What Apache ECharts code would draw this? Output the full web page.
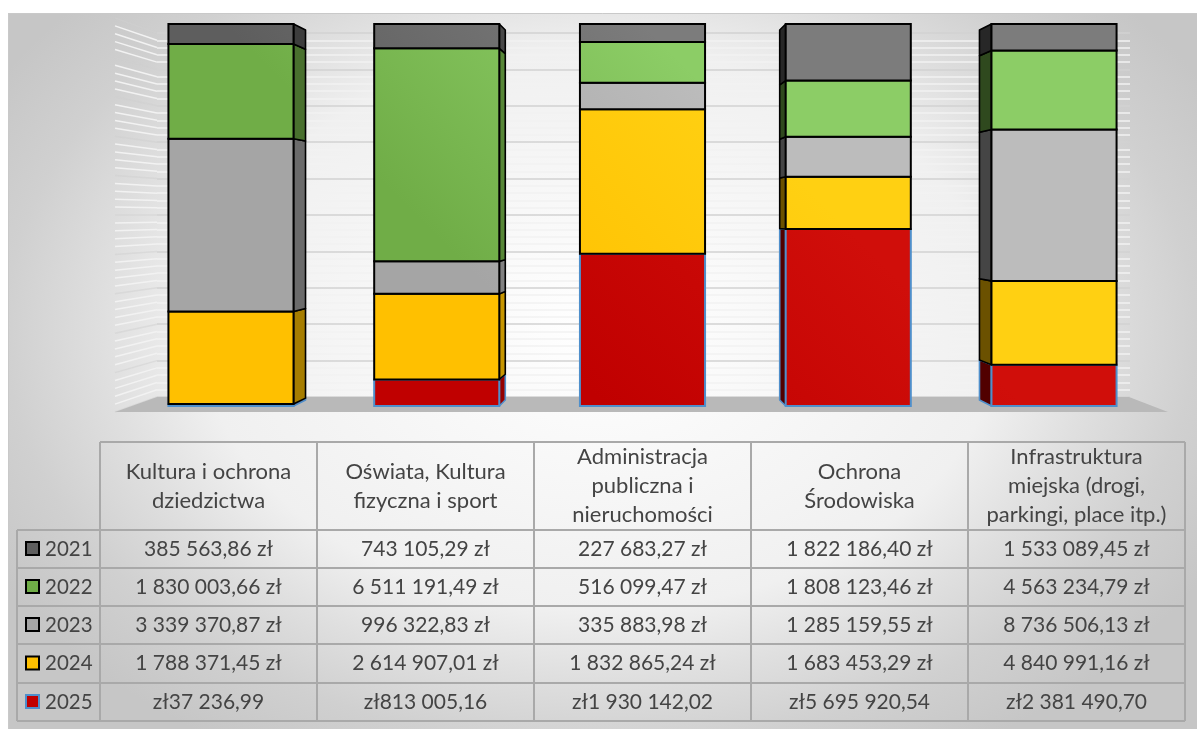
<!DOCTYPE html>
<html>
<head>
<meta charset="utf-8">
<style>
  html, body { margin: 0; padding: 0; background: #fff; }
  #chart { width: 1197px; height: 729px; }
</style>
<script src="https://cdn.jsdelivr.net/npm/echarts@6/dist/echarts.min.js"></script>
</head>
<body>
<div id="chart"></div>
<script>
const categories = [
  'Kultura i ochrona\ndziedzictwa',
  'Oświata, Kultura\nfizyczna i sport',
  'Administracja\npubliczna i\nnieruchomości',
  'Ochrona\nŚrodowiska',
  'Infrastruktura\nmiejska (drogi,\nparkingi, place itp.)'
];
const years = ['2021', '2022', '2023', '2024', '2025'];
const values2021 = [385563.86, 743105.29, 227683.27, 1822186.40, 1533089.45];
const values2022 = [1830003.66, 6511191.49, 516099.47, 1808123.46, 4563234.79];
const values2023 = [3339370.87, 996322.83, 335883.98, 1285159.55, 8736506.13];
const values2024 = [1788371.45, 2614907.01, 1832865.24, 1683453.29, 4840991.16];
const values2025 = [37236.99, 813005.16, 1930142.02, 5695920.54, 2381490.70];

const rows = [values2021, values2022, values2023, values2024, values2025];

// kolory: lewy dolny rog wykresu -> prawy gorny (odbicie swiatla w oryginale)
const baseColors = [[94, 94, 94], [112, 173, 71], [165, 165, 165], [255, 192, 0], [192, 0, 0]];
const litColors = [[124, 124, 124], [140, 205, 102], [188, 188, 188], [255, 208, 18], [208, 14, 10]];
const edgeColors = ['#000', '#000', '#000', '#000', '#4f8fcb'];
const sideShade = [0.65, 0.78, 1, 0.42, 0.42];
const sideDepth = [12, 6, 0, -6, -12];

const TEXT = '#444444';
const FONT = 'Lato, "Open Sans", sans-serif';

function rgb(c, k) {
  k = k === undefined ? 1 : k;
  return 'rgb(' + c.map(v => Math.round(v * k)).join(',') + ')';
}

function money(v, prefix) {
  const parts = v.toFixed(2).split('.');
  const whole = parts[0].replace(/\B(?=(\d{3})+(?!\d))/g, ' ');
  return prefix ? 'zł' + whole + ',' + parts[1] : whole + ',' + parts[1] + ' zł';
}

// udzial kazdego roku w slupku (wykres 100%), od dolu 2025 do gory 2021
function stackedData() {
  const out = rows.map(() => []);
  categories.forEach((c, i) => {
    const total = rows.reduce((s, r) => s + r[i], 0);
    let start = 0;
    for (let r = rows.length - 1; r >= 0; r--) {
      const end = start + rows[r][i] / total;
      out[r].push([i, start, end]);
      start = end;
    }
  });
  return out;
}

function renderSegment(yearIdx) {
  return function (params, api) {
    const i = api.value(0);
    const bottom = api.coord([i, api.value(1)]);
    const top = api.coord([i, api.value(2)]);
    const w = api.size([1, 0])[0] * 0.608;
    const x = bottom[0] - w / 2;
    const depth = sideDepth[i];
    const edge = edgeColors[yearIdx];
    const fill = new echarts.graphic.LinearGradient(620, 420, 830, 210, [
      { offset: 0, color: rgb(baseColors[yearIdx]) },
      { offset: 1, color: rgb(litColors[yearIdx]) }
    ], true);
    const children = [];
    if (depth !== 0) {
      const sx = depth > 0 ? x + w : x;
      const midY = 215;
      const k = 0.9686;
      children.push({
        type: 'polygon',
        shape: {
          points: [
            [sx, top[1]],
            [sx + depth, midY + (top[1] - midY) * k],
            [sx + depth, midY + (bottom[1] - midY) * k],
            [sx, bottom[1]]
          ]
        },
        style: { fill: rgb(baseColors[yearIdx], sideShade[i]), stroke: edge, lineWidth: 1.6, lineJoin: 'round' }
      });
    }
    children.push({
      type: 'rect',
      shape: { x: x, y: top[1], width: w, height: bottom[1] - top[1] },
      style: { fill: fill, stroke: edge, lineWidth: 2 }
    });
    return { type: 'group', children: children };
  };
}

const stacked = stackedData();
// rysowane od dolu, zeby czarna krawedz wyzszego segmentu przykrywala nizszy
const barSeries = years.map((y, r) => ({
  name: y,
  type: 'custom',
  coordinateSystem: 'cartesian2d',
  xAxisIndex: 0,
  yAxisIndex: 0,
  z: 10 - r + 2,
  silent: true,
  encode: { x: 0, y: [1, 2] },
  data: stacked[r],
  renderItem: renderSegment(r)
}));

// tabela danych pod wykresem
const colX = [100, 317, 534, 751, 968, 1185];
const rowY = [442, 530, 568, 606, 644, 683, 721];
const tableLeft = 17;
const LINE = '#a9a9a9';

function tableElements() {
  const els = [];
  const line = (x1, y1, x2, y2) => els.push({
    type: 'line', z: 1,
    shape: { x1: x1, y1: y1, x2: x2, y2: y2 },
    style: { stroke: LINE, lineWidth: 2 }
  });
  colX.forEach(x => line(x, rowY[0], x, rowY[6]));
  line(tableLeft, rowY[1], tableLeft, rowY[6]);
  line(colX[0], rowY[0], colX[5], rowY[0]);
  rowY.slice(1).forEach(y => line(tableLeft, y, colX[5], y));

  categories.forEach((c, i) => {
    els.push({
      type: 'text', z: 2,
      style: {
        x: (colX[i] + colX[i + 1]) / 2, y: (rowY[0] + rowY[1]) / 2,
        text: c, align: 'center', verticalAlign: 'middle',
        fill: TEXT, font: '22px ' + FONT, lineHeight: 29
      }
    });
  });
  years.forEach((y, r) => {
    const cy = (rowY[r + 1] + rowY[r + 2]) / 2;
    els.push({
      type: 'rect', z: 2,
      shape: { x: 26, y: cy - 7, width: 13, height: 13 },
      style: { fill: rgb(baseColors[r]), stroke: edgeColors[r], lineWidth: 2 }
    });
    els.push({
      type: 'text', z: 2,
      style: {
        x: 45, y: cy, text: y, align: 'left', verticalAlign: 'middle',
        fill: TEXT, font: '20.5px ' + FONT
      }
    });
    rows[r].forEach((v, i) => {
      els.push({
        type: 'text', z: 2,
        style: {
          x: (colX[i] + colX[i + 1]) / 2, y: cy,
          text: money(v, y === '2025'), align: 'center', verticalAlign: 'middle',
          fill: TEXT, font: '21px ' + FONT
        }
      });
    });
  });
  return els;
}

// lewa sciana 3D: linie pomocnicze zbiegaja sie do tylnej sciany
function leftWallLines() {
  const els = [];
  const yTop = 33, yBottom = 397, midY = 215, stretch = 197 / 182;
  for (let n = 0; n <= 50; n++) {
    const yb = yTop + (yBottom - yTop) * n / 50;
    const major = n % 5 === 0;
    els.push({
      type: 'line', z: 0,
      shape: { x1: 115, y1: midY + (yb - midY) * stretch, x2: 157, y2: yb },
      style: { stroke: major ? 'rgba(208,208,208,0.5)' : '#f2f2f2', lineWidth: 1.5 }
    });
  }
  return els;
}

// tlo: gradient eliptyczny (koło w ukladzie lokalnym sciesnione w pionie)
const BG_Y = 330, BG_SCALE = 0.7;

const chart = echarts.init(document.getElementById('chart'));
chart.setOption({
  animation: false,
  textStyle: { fontFamily: FONT },
  grid: [
    { left: 128.1, right: 40.1, top: 24, height: 382 },
    { left: 157, right: 67, top: 33, height: 364 }
  ],
  xAxis: [
    { type: 'category', gridIndex: 0, data: categories, show: false },
    { type: 'category', gridIndex: 1, data: categories, axisLine: { show: false }, axisTick: { show: false }, axisLabel: { show: false } }
  ],
  yAxis: [
    { type: 'value', gridIndex: 0, min: 0, max: 1, show: false },
    {
      type: 'value', gridIndex: 1, min: 0, max: 100, interval: 10,
      axisLine: { show: false }, axisTick: { show: false }, axisLabel: { show: false },
      splitLine: { show: true, lineStyle: { color: '#d2d2d2', width: 1.6 } },
      minorTick: { show: false, splitNumber: 5 },
      minorSplitLine: { show: true, lineStyle: { color: '#f2f2f2', width: 1.6 } }
    }
  ],
  graphic: {
    elements: [
      {
        type: 'rect', z: -10,
        originX: 600, originY: BG_Y, scaleY: BG_SCALE,
        shape: { x: 8, y: BG_Y + (13 - BG_Y) / BG_SCALE, width: 1200, height: 730 / BG_SCALE },
        style: {
          fill: new echarts.graphic.RadialGradient(600, BG_Y, 700, [
            { offset: 0, color: '#ffffff' },
            { offset: 0.57, color: '#f0f0f0' },
            { offset: 0.71, color: '#dfdfdf' },
            { offset: 0.85, color: '#d0d0d0' },
            { offset: 1, color: '#c6c6c6' }
          ], true)
        }
      },
      { type: 'line', z: -9, shape: { x1: 8, y1: 13.5, x2: 1197, y2: 13.5 }, style: { stroke: '#c9c9c9', lineWidth: 1 } },
      { type: 'line', z: -9, shape: { x1: 8.5, y1: 13, x2: 8.5, y2: 729 }, style: { stroke: '#c9c9c9', lineWidth: 1 } },
      {
        type: 'polygon', z: 1,
        shape: { points: [[115, 412], [157, 397], [1129, 397], [1168, 412]] },
        style: { fill: '#b9b9b9' }
      }
    ].concat(leftWallLines(), tableElements())
  },
  series: barSeries
});
</script>
</body>
</html>
